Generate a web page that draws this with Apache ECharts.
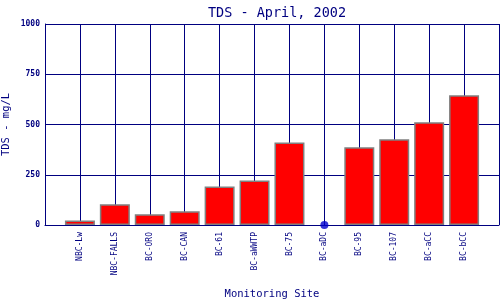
<!DOCTYPE html>
<html><head><meta charset="utf-8">
<script src="https://cdn.jsdelivr.net/npm/echarts@6/dist/echarts.min.js"></script>
<style>html,body{margin:0;padding:0;background:#fff}#c{width:500px;height:300px}</style>
</head><body><div id="c"></div>
<script>
const sites = ['NBC-Lw','NBC-FALLS','BC-ORO','BC-CAN','BC-61','BC-aWWTP','BC-75','BC-aDC','BC-95','BC-107','BC-aCC','BC-bCC'];
const tds = [22, 103, 53, 68, 192, 222, 411, null, 387, 426, 511, 645];
const zeroPoints = [null, null, null, null, null, null, null, 0, null, null, null, null];
const yTicks = [0, 250, 500, 750, 1000];

const navy = '#000080';
const font = 'DejaVu Sans Mono';
const cats = [''].concat(sites, ['']);
const barData = [null].concat(tds, [null]);
const ptData = [null].concat(zeroPoints, [null]);

const chart = echarts.init(document.getElementById('c'), null, {renderer: 'canvas'});
chart.setOption({
  animation: false,
  backgroundColor: '#fff',
  title: {text: 'TDS - April, 2002', left: 272, textAlign: 'center', top: 1,
    textStyle: {color: navy, fontFamily: font, fontWeight: 'normal', fontSize: 13.5}},
  grid: {left: 45, right: 1, top: 24, bottom: 75, containLabel: false, outerBoundsMode: 'none'},
  xAxis: {
    type: 'category', data: cats, boundaryGap: false,
    name: 'Monitoring Site', nameLocation: 'middle', nameGap: 64, nameMoveOverlap: false,
    nameTextStyle: {color: navy, fontFamily: font, fontSize: 10.5},
    axisLine: {lineStyle: {color: navy, width: 1}},
    axisTick: {show: false},
    axisLabel: {rotate: 90, color: navy, fontFamily: font, fontSize: 8, margin: 7, interval: 0},
    splitLine: {show: true, lineStyle: {color: navy, width: 1}}
  },
  yAxis: {
    type: 'value', min: yTicks[0], max: yTicks[yTicks.length - 1], interval: 250,
    name: 'TDS - mg/L', nameLocation: 'middle', nameGap: 33, nameRotate: 90, nameMoveOverlap: false,
    nameTextStyle: {color: navy, fontFamily: font, fontSize: 10.5},
    axisLine: {show: true, lineStyle: {color: navy, width: 1}},
    axisTick: {show: false},
    axisLabel: {color: navy, fontFamily: font, fontSize: 8, fontWeight: 'bold', margin: 5,
      formatter: v => String(v)},
    splitLine: {show: true, lineStyle: {color: navy, width: 1}}
  },
  series: [
    {type: 'bar', data: barData, barWidth: 30,
      itemStyle: {color: '#ff0000', borderColor: '#808080', borderWidth: 1.5}},
    {type: 'scatter', data: ptData, symbol: 'circle', symbolSize: 8,
      itemStyle: {color: '#0000cc'}, z: 5}
  ]
});
</script></body></html>
